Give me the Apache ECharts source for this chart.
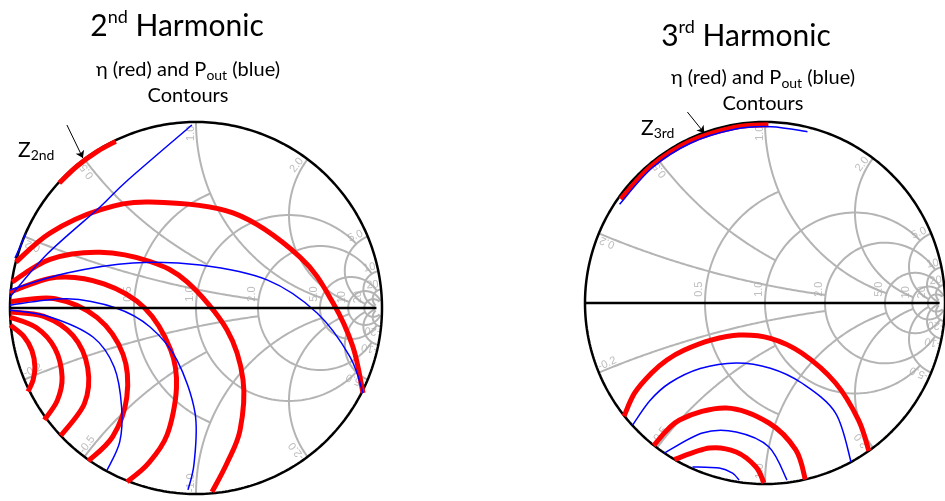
<!DOCTYPE html>
<html>
<head>
<meta charset="utf-8">
<script src="https://cdn.jsdelivr.net/npm/echarts@6/dist/echarts.min.js"></script>
<style>
html, body { margin: 0; padding: 0; background: #fff; }
#chart { width: 945px; height: 501px; }
</style>
</head>
<body>
<div id="chart"></div>
<script>
// smith chart grid: resistance circles and reactance arcs
const resistTicks = [0.5, 1, 2, 5, 10, 20];
const resistLabels = ['0.5', '1.0', '2.0', '5.0', '10', '20'];
const resistReach = [1, 5, 10, 20, 50, 50];   // |x| where each circle stops
const reactTicks = [0.2, 0.5, 1, 2, 5, 10, 20];
const reactLabels = ['0.2', '0.5', '1.0', '2.0', '5.0', '10', '20'];
const reactReach = [2, 1, 5, 10, 20, 50, 50]; // r where each arc stops

// contours, reflection coefficient plane [re, im]
const h2Red = [
  [[-0.968, 0.247], [-0.785, 0.403], [-0.516, 0.527], [-0.247, 0.570], [0.199, 0.511], [0.559, 0.274], [0.737, 0.027], [0.844, -0.210], [0.898, -0.457]],
  [[-0.989, 0.140], [-0.785, 0.262], [-0.516, 0.300], [-0.247, 0.250], [-0.048, 0.140], [0.167, -0.118], [0.253, -0.387], [0.237, -0.656], [0.167, -0.833], [0.086, -0.989]],
  [[-1.0, 0.085], [-0.752, 0.165], [-0.495, 0.130], [-0.276, 0.0], [-0.136, -0.225], [-0.105, -0.430], [-0.156, -0.684], [-0.260, -0.840], [-0.371, -0.935]],
  [[-0.996, 0.034], [-0.757, 0.050], [-0.531, -0.052], [-0.392, -0.250], [-0.372, -0.480], [-0.447, -0.690], [-0.579, -0.823]],
  [[-0.996, -0.021], [-0.818, -0.045], [-0.661, -0.149], [-0.582, -0.323], [-0.600, -0.514], [-0.727, -0.686]],
  [[-1.0, -0.049], [-0.859, -0.105], [-0.758, -0.218], [-0.720, -0.371], [-0.746, -0.498], [-0.815, -0.601]],
  [[-0.998, -0.092], [-0.926, -0.152], [-0.882, -0.229], [-0.866, -0.317], [-0.876, -0.388], [-0.903, -0.449]]
];
const h2Blue = [
  [[-0.914, 0.403], [-0.945, 0.330], [-0.973, 0.269]],
  [[-0.022, 0.984], [-0.366, 0.688], [-0.516, 0.543], [-0.800, 0.290], [-1.0, 0.059]],
  [[-1.0, 0.097], [-0.694, 0.188], [-0.339, 0.242], [0.022, 0.231], [0.382, 0.151], [0.651, -0.027], [0.828, -0.263], [0.898, -0.457]],
  [[-1.0, 0.016], [-0.694, 0.050], [-0.430, 0.0], [-0.247, -0.102], [-0.102, -0.280], [-0.005, -0.565], [-0.010, -0.833], [-0.043, -0.978]],
  [[-1.0, -0.011], [-0.785, -0.048], [-0.554, -0.156], [-0.440, -0.317], [-0.400, -0.532], [-0.410, -0.720], [-0.478, -0.871]]
];
const h2Zone = [[-0.735, 0.672], [-0.640, 0.762], [-0.528, 0.843], [-0.432, 0.896]];

const h3Red = [
  [[-0.783, -0.625], [-0.724, -0.497], [-0.630, -0.387], [-0.545, -0.315], [-0.448, -0.260], [-0.300, -0.205], [-0.144, -0.177], [0.030, -0.195], [0.204, -0.276], [0.392, -0.442], [0.519, -0.646], [0.577, -0.817]],
  [[-0.618, -0.787], [-0.475, -0.646], [-0.215, -0.580], [0.022, -0.663], [0.171, -0.812], [0.224, -0.975]],
  [[-0.503, -0.864], [-0.309, -0.801], [-0.160, -0.823], [-0.050, -0.906], [-0.006, -0.994]]
];
const h3Blue = [
  [[-0.735, -0.674], [-0.640, -0.540], [-0.530, -0.442], [-0.360, -0.362], [-0.160, -0.331], [0.030, -0.360], [0.204, -0.442], [0.392, -0.608], [0.478, -0.878]],
  [[-0.558, -0.829], [-0.348, -0.718], [-0.160, -0.713], [0.022, -0.796], [0.122, -0.978]],
  [[-0.403, -0.906], [-0.254, -0.912], [-0.182, -0.939], [-0.144, -0.978]]
];
const h3ZoneRed = [[-0.801, 0.574], [-0.633, 0.755], [-0.416, 0.893], [-0.171, 0.970], [0.019, 0.985]];
const h3ZoneBlue = [[-0.808, 0.545], [-0.627, 0.747], [-0.412, 0.884], [-0.169, 0.960], [0.034, 0.974], [0.236, 0.946]];

// pointer arrows next to the Z labels
const h2Arrow = [[-0.694, 0.984], [-0.608, 0.806]];
const h3Arrow = [[-0.431, 1.055], [-0.337, 0.939]];

const GRAY = '#b4b4b4';
const chart = echarts.init(document.getElementById('chart'));

function gamma(r, x) {
  const d = (r + 1) * (r + 1) + x * x;
  return [(r * r + x * x - 1) / d, (2 * x) / d];
}

function resistArc(r, reach) {
  const c = r / (1 + r), rad = 1 / (1 + r);
  const p = gamma(r, reach);
  const a = Math.atan2(p[1], p[0] - c);
  const pts = [];
  for (let i = 0; i <= 120; i++) {
    const t = a + (2 * Math.PI - 2 * a) * i / 120;
    pts.push([c + rad * Math.cos(t), rad * Math.sin(t)]);
  }
  return pts;
}

function reactArc(x, reach) {
  const cy = 1 / x, rad = Math.abs(1 / x);
  const p0 = gamma(0, x), p1 = gamma(reach, x);
  const a0 = Math.atan2(p0[1] - cy, p0[0] - 1);
  let d = Math.atan2(p1[1] - cy, p1[0] - 1) - a0;
  while (d > Math.PI) d -= 2 * Math.PI;
  while (d < -Math.PI) d += 2 * Math.PI;
  const pts = [];
  for (let i = 0; i <= 120; i++) {
    const t = a0 + d * i / 120;
    pts.push([1 + rad * Math.cos(t), cy + rad * Math.sin(t)]);
  }
  return pts;
}

function smithSeries(g, R) {
  const ax = { xAxisIndex: g, yAxisIndex: g, silent: true, animation: false };
  const arcs = [];
  resistTicks.forEach((r, i) => arcs.push({ coords: resistArc(r, resistReach[i]) }));
  reactTicks.forEach((x, i) => {
    arcs.push({ coords: reactArc(x, reactReach[i]) });
    arcs.push({ coords: reactArc(-x, reactReach[i]) });
  });

  const labels = [];
  const charW = 6.2 / R;
  resistTicks.forEach((r, i) => {
    const len = resistLabels[i].length * charW;
    labels.push({ name: resistLabels[i], value: [gamma(r, 0)[0] - 0.035, 0.025 + len / 2], label: { rotate: 90 } });
  });
  reactTicks.forEach((x, i) => {
    const len = reactLabels[i].length * charW;
    const rho = 1 - len / 2 - 0.01;
    const p = gamma(0, x);
    const th = Math.atan2(p[1], p[0]);
    const tp = th + 0.03;
    labels.push({ name: reactLabels[i], value: [rho * Math.cos(tp), rho * Math.sin(tp)], label: { rotate: th * 180 / Math.PI } });
    const tn = -th - 0.03;
    labels.push({ name: '-' + reactLabels[i], value: [rho * Math.cos(tn), rho * Math.sin(tn)], label: { rotate: 180 - th * 180 / Math.PI } });
  });

  const ring = [];
  for (let i = 0; i <= 360; i++) {
    const t = i * Math.PI / 180;
    ring.push([Math.cos(t), Math.sin(t)]);
  }

  return [
    Object.assign({ type: 'lines', coordinateSystem: 'cartesian2d', polyline: true, clip: false, z: 1,
      lineStyle: { color: GRAY, width: 2, opacity: 1 }, data: arcs }, ax),
    Object.assign({ type: 'scatter', symbolSize: 0, z: 2, clip: false, data: labels,
      label: { show: true, formatter: '{b}', position: 'inside', color: '#acacac', fontSize: 11, fontFamily: 'Liberation Sans' } }, ax),
    Object.assign({ type: 'line', symbol: 'none', clip: false, z: 3, data: ring,
      lineStyle: { color: '#000', width: 2.5 } }, ax),
    Object.assign({ type: 'line', symbol: 'none', clip: false, z: 9, data: [[-1, 0], [0.97, 0]],
      lineStyle: { color: '#000', width: 2.5 } }, ax)
  ];
}

// catmull-rom curve through the projected points, as an svg path
function curvePath(pts) {
  let d = 'M' + pts[0][0] + ' ' + pts[0][1];
  for (let i = 0; i < pts.length - 1; i++) {
    const p0 = pts[i - 1] || pts[i], p1 = pts[i], p2 = pts[i + 1], p3 = pts[i + 2] || p2;
    const c1 = [p1[0] + (p2[0] - p0[0]) / 6, p1[1] + (p2[1] - p0[1]) / 6];
    const c2 = [p2[0] - (p3[0] - p1[0]) / 6, p2[1] - (p3[1] - p1[1]) / 6];
    d += ' C' + c1[0] + ' ' + c1[1] + ' ' + c2[0] + ' ' + c2[1] + ' ' + p2[0] + ' ' + p2[1];
  }
  return d;
}

function contours(g, list, color, width, z) {
  return {
    type: 'custom', coordinateSystem: 'cartesian2d', xAxisIndex: g, yAxisIndex: g,
    silent: true, animation: false, z: z,
    data: list.map((c, i) => [c[0][0], c[0][1], i]),
    renderItem: (params, api) => ({
      type: 'path',
      shape: { pathData: curvePath(list[params.dataIndex].map(p => api.coord(p))) },
      style: { stroke: color, lineWidth: width, fill: null, lineCap: 'butt' }
    })
  };
}

function arrow(g, coords) {
  return { type: 'lines', coordinateSystem: 'cartesian2d', xAxisIndex: g, yAxisIndex: g, clip: false, silent: true,
    z: 10, symbol: ['none', 'arrow'], symbolSize: 7, animation: false,
    lineStyle: { color: '#000', width: 1, opacity: 1, curveness: 0 }, data: [{ coords: coords }] };
}

const series = [].concat(
  smithSeries(0, 186),
  smithSeries(1, 181),
  [
    contours(0, h2Red.concat([h2Zone]), '#ff0000', 5, 5),
    contours(0, h2Blue, '#0000ff', 1.5, 6),
    contours(1, h3Red.concat([h3ZoneRed]), '#ff0000', 5, 5),
    contours(1, h3Blue.concat([h3ZoneBlue]), '#0000ff', 1.5, 6),
    arrow(0, h2Arrow),
    arrow(1, h3Arrow)
  ]
);

const font = 'Lato';
const rich = {
  big: { fontSize: 30, fontFamily: font, fill: '#000', lineHeight: 36 },
  sup: { fontSize: 18, fontFamily: font, fill: '#000', lineHeight: 23, verticalAlign: 'top' },
  mid: { fontSize: 20, fontFamily: font, fill: '#000', lineHeight: 24 },
  sub: { fontSize: 14, fontFamily: font, fill: '#000', lineHeight: 12, verticalAlign: 'bottom' },
  z: { fontSize: 21, fontFamily: font, fill: '#000', lineHeight: 25 },
  zs: { fontSize: 14, fontFamily: font, fill: '#000', lineHeight: 12, verticalAlign: 'bottom' }
};

function label(x, y, text, align) {
  return { type: 'text', x: x, y: y, silent: true,
    style: { text: text, rich: rich, align: align || 'center', verticalAlign: 'middle', textAlign: align || 'center', textVerticalAlign: 'middle' } };
}

const option = {
  animation: false,
  grid: [
    { left: 10, top: 122, width: 372, height: 372 },
    { left: 585, top: 122, width: 362, height: 362 }
  ],
  xAxis: [0, 1].map(i => ({ type: 'value', gridIndex: i, min: -1, max: 1, show: false })),
  yAxis: [0, 1].map(i => ({ type: 'value', gridIndex: i, min: -1, max: 1, show: false })),
  graphic: [
    label(177, 26, '{big|2}{sup|nd}{big| Harmonic}'),
    label(188, 70, '{mid|η (red) and P}{sub|out}{mid| (blue)}'),
    label(188, 96, '{mid|Contours}'),
    label(746, 36, '{big|3}{sup|rd}{big| Harmonic}'),
    label(763, 78, '{mid|η (red) and P}{sub|out}{mid| (blue)}'),
    label(763, 104, '{mid|Contours}'),
    label(18, 150, '{z|Z}{zs|2nd}', 'left'),
    label(641, 128, '{z|Z}{zs|3rd}', 'left')
  ],
  series: series
};

chart.setOption(option);
</script>
</body>
</html>
